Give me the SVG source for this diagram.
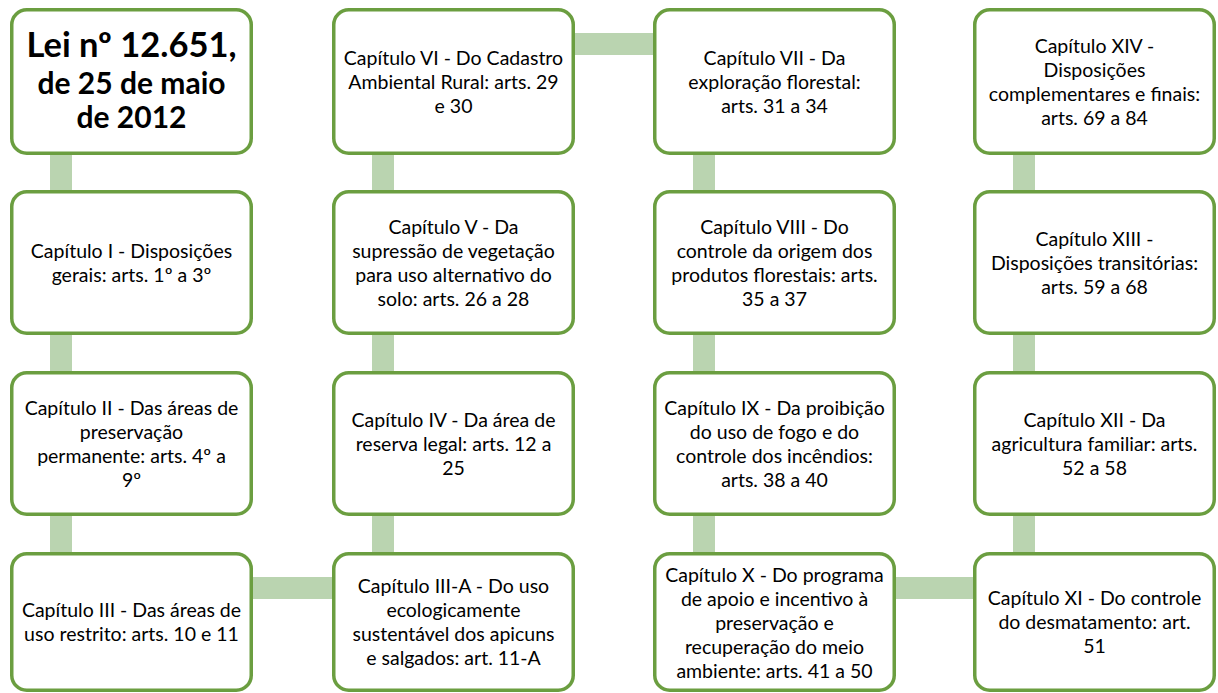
<svg xmlns="http://www.w3.org/2000/svg" width="1218" height="693" viewBox="0 0 1218 693">
<style>
.box{fill:#fff;stroke:#6b9e40;stroke-width:3.5}
.con{fill:#bad4b0}
.t{font-family:Lato,"Liberation Sans",sans-serif;font-size:19.5px;fill:#000;text-anchor:middle}
.h{font-family:Lato,"Liberation Sans",sans-serif;font-weight:bold;fill:#000;text-anchor:middle}
</style>
<rect width="1218" height="693" fill="#fff"/>
<g id="connectors">
<rect class="con" x="50" y="150" width="22" height="45"/>
<rect class="con" x="50" y="330" width="22" height="46"/>
<rect class="con" x="50" y="511" width="22" height="46"/>
<rect class="con" x="250" y="577" width="86" height="22"/>
<rect class="con" x="372" y="511" width="22" height="46"/>
<rect class="con" x="372" y="330" width="22" height="46"/>
<rect class="con" x="372" y="150" width="22" height="45"/>
<rect class="con" x="572" y="33" width="86" height="22"/>
<rect class="con" x="693" y="150" width="22" height="45"/>
<rect class="con" x="693" y="330" width="22" height="46"/>
<rect class="con" x="693" y="511" width="22" height="46"/>
<rect class="con" x="893" y="577" width="85" height="22"/>
<rect class="con" x="1013" y="511" width="22" height="46"/>
<rect class="con" x="1013" y="330" width="22" height="46"/>
<rect class="con" x="1013" y="150" width="22" height="45"/>
</g>
<g id="lei">
<rect class="box" x="11.75" y="9.75" width="239.5" height="143.5" rx="15"/>
<text class="h" x="131.5" y="57" font-size="34.5">Lei nº 12.651,</text>
<text class="h" x="131.5" y="94" font-size="30">de 25 de maio</text>
<text class="h" x="131.5" y="128" font-size="30">de 2012</text>
</g>
<g id="cap1">
<rect class="box" x="11.75" y="191.75" width="239.5" height="141.5" rx="15"/>
<text class="t" y="257.5"><tspan x="131.5">Capítulo I - Disposições</tspan><tspan x="131.5" dy="24">gerais: arts. 1º a 3º</tspan></text>
</g>
<g id="cap2">
<rect class="box" x="11.75" y="372.75" width="239.5" height="141.5" rx="15"/>
<text class="t" y="414.5"><tspan x="131.5">Capítulo II - Das áreas de</tspan><tspan x="131.5" dy="24">preservação</tspan><tspan x="131.5" dy="24">permanente: arts. 4º a</tspan><tspan x="131.5" dy="24">9º</tspan></text>
</g>
<g id="cap3">
<rect class="box" x="11.75" y="553.75" width="239.5" height="136.5" rx="15"/>
<text class="t" y="617"><tspan x="131.5">Capítulo III - Das áreas de</tspan><tspan x="131.5" dy="24">uso restrito: arts. 10 e 11</tspan></text>
</g>
<g id="cap6">
<rect class="box" x="333.75" y="9.75" width="239.5" height="143.5" rx="15"/>
<text class="t" y="64.5"><tspan x="453.5">Capítulo VI - Do Cadastro</tspan><tspan x="453.5" dy="24">Ambiental Rural: arts. 29</tspan><tspan x="453.5" dy="24">e 30</tspan></text>
</g>
<g id="cap5">
<rect class="box" x="333.75" y="191.75" width="239.5" height="141.5" rx="15"/>
<text class="t" y="233.5"><tspan x="453.5">Capítulo V - Da</tspan><tspan x="453.5" dy="24">supressão de vegetação</tspan><tspan x="453.5" dy="24">para uso alternativo do</tspan><tspan x="453.5" dy="24">solo: arts. 26 a 28</tspan></text>
</g>
<g id="cap4">
<rect class="box" x="333.75" y="372.75" width="239.5" height="141.5" rx="15"/>
<text class="t" y="426.5"><tspan x="453.5">Capítulo IV - Da área de</tspan><tspan x="453.5" dy="24">reserva legal: arts. 12 a</tspan><tspan x="453.5" dy="24">25</tspan></text>
</g>
<g id="cap3a">
<rect class="box" x="333.75" y="553.75" width="239.5" height="136.5" rx="15"/>
<text class="t" y="593"><tspan x="453.5">Capítulo III-A - Do uso</tspan><tspan x="453.5" dy="24">ecologicamente</tspan><tspan x="453.5" dy="24">sustentável dos apicuns</tspan><tspan x="453.5" dy="24">e salgados: art. 11-A</tspan></text>
</g>
<g id="cap7">
<rect class="box" x="654.75" y="9.75" width="239.5" height="143.5" rx="15"/>
<text class="t" y="64.5"><tspan x="774.5">Capítulo VII - Da</tspan><tspan x="774.5" dy="24">exploração florestal:</tspan><tspan x="774.5" dy="24">arts. 31 a 34</tspan></text>
</g>
<g id="cap8">
<rect class="box" x="654.75" y="191.75" width="239.5" height="141.5" rx="15"/>
<text class="t" y="233.5"><tspan x="774.5">Capítulo VIII - Do</tspan><tspan x="774.5" dy="24">controle da origem dos</tspan><tspan x="774.5" dy="24">produtos florestais: arts.</tspan><tspan x="774.5" dy="24">35 a 37</tspan></text>
</g>
<g id="cap9">
<rect class="box" x="654.75" y="372.75" width="239.5" height="141.5" rx="15"/>
<text class="t" y="414.5"><tspan x="774.5">Capítulo IX - Da proibição</tspan><tspan x="774.5" dy="24">do uso de fogo e do</tspan><tspan x="774.5" dy="24">controle dos incêndios:</tspan><tspan x="774.5" dy="24">arts. 38 a 40</tspan></text>
</g>
<g id="cap10">
<rect class="box" x="654.75" y="553.75" width="239.5" height="136.5" rx="15"/>
<text class="t" y="582"><tspan x="774.5">Capítulo X - Do programa</tspan><tspan x="774.5" dy="24">de apoio e incentivo à</tspan><tspan x="774.5" dy="24">preservação e</tspan><tspan x="774.5" dy="24">recuperação do meio</tspan><tspan x="774.5" dy="24">ambiente: arts. 41 a 50</tspan></text>
</g>
<g id="cap14">
<rect class="box" x="974.75" y="9.75" width="239.5" height="143.5" rx="15"/>
<text class="t" y="52.5"><tspan x="1094.5">Capítulo XIV -</tspan><tspan x="1094.5" dy="24">Disposições</tspan><tspan x="1094.5" dy="24">complementares e finais:</tspan><tspan x="1094.5" dy="24">arts. 69 a 84</tspan></text>
</g>
<g id="cap13">
<rect class="box" x="974.75" y="191.75" width="239.5" height="141.5" rx="15"/>
<text class="t" y="245.5"><tspan x="1094.5">Capítulo XIII -</tspan><tspan x="1094.5" dy="24">Disposições transitórias:</tspan><tspan x="1094.5" dy="24">arts. 59 a 68</tspan></text>
</g>
<g id="cap12">
<rect class="box" x="974.75" y="372.75" width="239.5" height="141.5" rx="15"/>
<text class="t" y="426.5"><tspan x="1094.5">Capítulo XII - Da</tspan><tspan x="1094.5" dy="24">agricultura familiar: arts.</tspan><tspan x="1094.5" dy="24">52 a 58</tspan></text>
</g>
<g id="cap11">
<rect class="box" x="974.75" y="553.75" width="239.5" height="136.5" rx="15"/>
<text class="t" y="605"><tspan x="1094.5">Capítulo XI - Do controle</tspan><tspan x="1094.5" dy="24">do desmatamento: art.</tspan><tspan x="1094.5" dy="24">51</tspan></text>
</g>
</svg>
